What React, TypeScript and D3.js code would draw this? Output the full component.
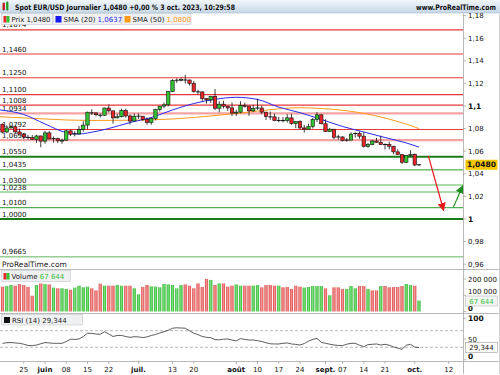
import React from "react";
import * as d3 from "d3";

// ---------- DATA ----------
const opens = [1.0839,1.0770,1.0806,1.0816,1.0771,1.0751,1.0726,1.0720,1.0705,1.0735,1.0689,1.0762,1.0708,1.0712,1.0692,1.0698,1.0780,1.0750,1.0753,1.0792,1.0831,1.0945,1.0939,1.0923,1.0918,1.0982,1.0957,1.0895,1.0905,1.0960,1.0912,1.0867,1.0910,1.0910,1.0882,1.0853,1.0888,1.0968,1.0999,1.1010,1.1128,1.1227,1.1228,1.1236,1.1230,1.1200,1.1128,1.1125,1.1065,1.1054,1.1085,1.0980,1.1016,1.0998,1.0983,1.0938,1.0946,1.1006,1.0999,1.0957,1.0979,1.0982,1.0946,1.0906,1.0904,1.0871,1.0872,1.0871,1.0895,1.0844,1.0863,1.0806,1.0795,1.0820,1.0880,1.0922,1.0843,1.0773,1.0795,1.0723,1.0726,1.0696,1.0698,1.0751,1.0756,1.0733,1.0642,1.0658,1.0690,1.0679,1.0659,1.0659,1.0644,1.0594,1.0571,1.0502,1.0563,1.0573,1.0478];
const highs = [1.0845,1.0829,1.0831,1.0829,1.0800,1.0761,1.0745,1.0744,1.0746,1.0737,1.0780,1.0779,1.0730,1.0719,1.0711,1.0787,1.0790,1.0777,1.0823,1.0865,1.0950,1.0971,1.0941,1.0933,1.0985,1.1012,1.0959,1.0930,1.0976,1.0977,1.0925,1.0934,1.0934,1.0911,1.0899,1.0902,1.0975,1.1000,1.1031,1.1132,1.1237,1.1245,1.1250,1.1276,1.1234,1.1222,1.1144,1.1130,1.1070,1.1089,1.1150,1.1043,1.1046,1.1002,1.1031,1.0966,1.1042,1.1029,1.1000,1.1010,1.1065,1.1004,1.0947,1.0951,1.0931,1.0904,1.0902,1.0927,1.0931,1.0864,1.0874,1.0831,1.0843,1.0894,1.0945,1.0928,1.0882,1.0805,1.0796,1.0745,1.0733,1.0718,1.0768,1.0767,1.0774,1.0768,1.0673,1.0700,1.0718,1.0737,1.0670,1.0684,1.0647,1.0618,1.0573,1.0567,1.0608,1.0579,1.0484];
const lows = [1.0760,1.0760,1.0801,1.0760,1.0746,1.0706,1.0702,1.0705,1.0674,1.0635,1.0666,1.0706,1.0676,1.0672,1.0666,1.0692,1.0735,1.0730,1.0747,1.0774,1.0796,1.0921,1.0908,1.0897,1.0912,1.0944,1.0844,1.0891,1.0898,1.0897,1.0835,1.0866,1.0887,1.0868,1.0834,1.0834,1.0874,1.0951,1.0981,1.0997,1.1123,1.1204,1.1218,1.1200,1.1181,1.1117,1.1103,1.1045,1.1021,1.1027,1.0963,1.0944,1.0978,1.0956,1.0912,1.0912,1.0937,1.0987,1.0913,1.0947,1.0966,1.0929,1.0876,1.0877,1.0866,1.0856,1.0854,1.0853,1.0834,1.0804,1.0795,1.0765,1.0791,1.0801,1.0858,1.0838,1.0772,1.0771,1.0705,1.0702,1.0686,1.0685,1.0698,1.0720,1.0711,1.0632,1.0631,1.0653,1.0675,1.0658,1.0615,1.0616,1.0573,1.0570,1.0488,1.0495,1.0553,1.0468,1.0468];
const closes = [1.0769,1.0805,1.0816,1.0771,1.0751,1.0726,1.0722,1.0705,1.0735,1.0689,1.0762,1.0708,1.0712,1.0692,1.0698,1.0780,1.0750,1.0753,1.0792,1.0831,1.0945,1.0939,1.0923,1.0918,1.0982,1.0957,1.0895,1.0905,1.0960,1.0912,1.0867,1.0910,1.0910,1.0882,1.0853,1.0888,1.0968,1.0999,1.1010,1.1128,1.1227,1.1228,1.1236,1.1230,1.1200,1.1128,1.1125,1.1065,1.1054,1.1085,1.0980,1.1016,1.0998,1.0983,1.0938,1.0946,1.1006,1.0999,1.0957,1.0979,1.0982,1.0946,1.0906,1.0904,1.0871,1.0872,1.0871,1.0895,1.0844,1.0863,1.0806,1.0795,1.0820,1.0880,1.0922,1.0843,1.0773,1.0795,1.0723,1.0726,1.0696,1.0698,1.0751,1.0756,1.0733,1.0642,1.0658,1.0690,1.0679,1.0659,1.0659,1.0644,1.0594,1.0571,1.0502,1.0563,1.0573,1.0478,1.0480];

const volumes = [153000,157000,163000,159000,169000,163000,151000,97000,163000,173000,169000,167000,147000,143000,143000,139000,134000,147000,159000,149000,153000,143000,130000,171000,159000,159000,159000,163000,159000,159000,159000,143000,106000,151000,163000,155000,153000,149000,169000,167000,163000,143000,163000,167000,159000,143000,173000,151000,200000,194000,163000,173000,173000,153000,159000,167000,159000,159000,159000,159000,163000,149000,163000,163000,159000,159000,149000,151000,139000,159000,153000,147000,151000,157000,157000,157000,143000,100000,149000,149000,139000,139000,157000,143000,157000,157000,139000,130000,130000,157000,157000,149000,151000,151000,157000,169000,163000,159000,67644];
const volumeUpLate = "rggrrrrgrrrrrgggggrgrrrgggrrgrrgrrrrrggrg"; // from index 58

const rsi = [39.6,41,41.5,40.5,39.6,37.5,34.5,34,35.5,38.5,41.5,40.5,39.6,39.5,39.6,44,49.5,49,50,56,64,63.5,62,61.3,67.5,62,56,58.5,58.5,56,54,55.5,55,53.5,55,58.5,61,64.5,67.5,71,76,77,76.5,76,70,64,60.5,56,54,53,48.5,48,49.5,50,47.5,45.5,51,49,47.6,47.6,46,44,41,38.5,38,38,39.5,40.5,38,37,35.5,39,45,49,51.5,42,39.6,37.5,35.5,34.5,34,37.5,39.6,39.6,35,31.4,36.5,37.2,38,35.5,37.2,35,31,28,25.1,35,37.2,30.5,29.344];

const sma20Idx = [-0.6,5,10,15,18,20,25,30,35,40,45,50,55,60,65,70,75,80,85,90,95,98];
const sma20Val = [1.0965,1.0925,1.0841,1.0765,1.0752,1.0761,1.0801,1.0854,1.0898,1.0965,1.1022,1.1059,1.1077,1.1058,1.0990,1.0941,1.0881,1.0819,1.0770,1.0721,1.0673,1.0637];
const sma50Idx = [-0.6,10,20,30,40,50,60,65,70,75,80,85,90,95,98];
const sma50Val = [1.0905,1.0885,1.0872,1.0874,1.0885,1.0915,1.0955,1.0975,1.0985,1.0978,1.0962,1.0935,1.0893,1.0840,1.0800];

const levelValues = [1.1674,1.146,1.125,1.11,1.1008,1.0934,1.0792,1.0698,1.055,1.0435,1.03,1.0238,1.01,1.0,0.9665];
const levelLabels = ["1,1674","1,1460","1,1250","1,1100","1,1008","1,0934","1,0792","1,0698","1,0550","1,0435","1,0300","1,0238","1,0100","1,0000","0,9665"];
const levelKinds = ["r","r","r","r","r","p","r","p","G","g","l","l","g","G","m"];

const priceTicks = [0.96,0.98,1,1.02,1.04,1.06,1.08,1.1,1.12,1.14,1.16,1.18];
const volumeTicks = [0,100000,200000];
const rsiTicks = [0,50,100];

const xTickIdx = [5,10,15,20,25,32,40,45,55,60,65,70,76,80,85,90,97,105];
const xTickLabels = ["25","juin","08","15","22","juil.","13","20","août","10","17","24","sept.","07","14","21","oct.","12"];

const arrowDown = { i0: 100.2, p0: 1.0558, i1: 103.8, p1: 1.0075 };
const arrowUp = { i0: 106.1, p0: 1.0105, i1: 108.3, p1: 1.0295 };

// ---------- LAYOUT ----------
const F = "'DejaVu Sans', Verdana, sans-serif";
const AX = 463.5;
const x = d3.scaleLinear().domain([0, 98]).range([2.5, 419]);
const yP = d3.scaleLinear().domain([1, 1.1]).range([219, 106]);
const yV = d3.scaleLinear().domain([0, 200000]).range([311.5, 279]);
const yR = d3.scaleLinear().domain([0, 100]).range([359.75, 318.25]);

const GREEN = "#33c433";
const RED = "#e8262a";

const levelStyle: Record<string, { c: string; w: number }> = {
  r: { c: "#e8383a", w: 1.2 },
  p: { c: "#f5a3a3", w: 2.2 },
  G: { c: "#187c18", w: 2 },
  g: { c: "#2e9c2e", w: 1 },
  l: { c: "#a9dba9", w: 2 },
  m: { c: "#5fb55f", w: 1 },
};

const fmt = (v: number) => String(+v.toFixed(4)).replace(".", ",");

export default function App() {
  const n = closes.length;
  const s20 = d3
    .line<number>()
    .x((_, i) => x(sma20Idx[i]))
    .y((v) => yP(v))
    .curve(d3.curveMonotoneX)(sma20Val);
  const s50 = d3
    .line<number>()
    .x((_, i) => x(sma50Idx[i]))
    .y((v) => yP(v))
    .curve(d3.curveMonotoneX)(sma50Val);
  const rsiPath = d3
    .line<number>()
    .x((_, i) => x(i))
    .y((v) => yR(v))(rsi);

  const volUp = (i: number) =>
    i >= 58 ? volumeUpLate[i - 58] === "g" : closes[i] >= opens[i];

  return (
    <svg width={500} height={375} style={{ display: "block", position: "absolute", left: 0, top: 0 }} fontFamily={F}>
      <defs>
        <linearGradient id="hdr" x1="0" y1="0" x2="0" y2="1">
          <stop offset="0" stopColor="#f1f6fb" />
          <stop offset="1" stopColor="#c6d7e7" />
        </linearGradient>
        <linearGradient id="vg" x1="0" y1="0" x2="1" y2="0">
          <stop offset="0" stopColor="#27ad27" />
          <stop offset="0.45" stopColor="#80e280" />
          <stop offset="1" stopColor="#2fb52f" />
        </linearGradient>
        <linearGradient id="vr" x1="0" y1="0" x2="1" y2="0">
          <stop offset="0" stopColor="#da3c3c" />
          <stop offset="0.45" stopColor="#f29a9a" />
          <stop offset="1" stopColor="#de4747" />
        </linearGradient>
        <marker id="ar" viewBox="0 0 10 10" refX="9" refY="5" markerWidth="7" markerHeight="7" orient="auto">
          <path d="M0,0 L10,5 L0,10 z" fill="#e8191c" />
        </marker>
        <marker id="ag" viewBox="0 0 10 10" refX="9" refY="5" markerWidth="7" markerHeight="7" orient="auto">
          <path d="M0,0 L10,5 L0,10 z" fill="#1e8c1e" />
        </marker>
        <clipPath id="mainClip">
          <rect x={0} y={13} width={AX} height={256} />
        </clipPath>
      </defs>
      <rect x={0} y={0} width={500} height={375} fill="#fff" />

      {/* Level lines */}
      <g clipPath="url(#mainClip)">
        {levelValues.map((v, i) => (
          <line key={"l" + i} x1={0} x2={AX} y1={yP(v)} y2={yP(v)} stroke={levelStyle[levelKinds[i]].c} strokeWidth={levelStyle[levelKinds[i]].w} />
        ))}
        {levelValues.map((v, i) => (
          <text key={"t" + i} x={2} y={yP(v) - 2.5} fontSize={7} fill="#111">
            {levelLabels[i]}
          </text>
        ))}
        <path d={s50 || ""} fill="none" stroke="#ff9a1a" strokeWidth={1} />
        <path d={s20 || ""} fill="none" stroke="#2a2af0" strokeWidth={1} />
        {d3.range(n).map((i) => {
          const o = opens[i], c = closes[i];
          const cx = x(i);
          const doji = Math.abs(c - o) < 0.0006;
          const top = yP(Math.max(o, c)), bot = yP(Math.min(o, c));
          return (
            <g key={"c" + i}>
              <line x1={cx} x2={cx} y1={yP(highs[i])} y2={yP(lows[i])} stroke="#111" strokeWidth={0.8} />
              {doji ? (
                <line x1={cx - 2} x2={cx + 2} y1={yP(c)} y2={yP(c)} stroke="#111" strokeWidth={1} />
              ) : (
                <rect x={cx - 1.7} y={top} width={3.4} height={Math.max(1, bot - top)} fill={c > o ? GREEN : RED} stroke="#111" strokeWidth={0.6} />
              )}
            </g>
          );
        })}
        <text x={2} y={267} fontSize={7.5} fill="#222">ProRealTime.com</text>
      </g>

      {/* arrows */}
      <line x1={x(arrowDown.i0)} y1={yP(arrowDown.p0)} x2={x(arrowDown.i1)} y2={yP(arrowDown.p1)} stroke="#e8191c" strokeWidth={1.2} markerEnd="url(#ar)" />
      <line x1={x(arrowUp.i0)} y1={yP(arrowUp.p0)} x2={x(arrowUp.i1)} y2={yP(arrowUp.p1)} stroke="#1e8c1e" strokeWidth={1.2} markerEnd="url(#ag)" />

      {/* Header */}
      <rect x={0} y={0} width={500} height={13} fill="url(#hdr)" />
      <line x1={0} x2={500} y1={13} y2={13} stroke="#a9b8c6" strokeWidth={0.6} />
      <rect x={2.5} y={3} width={2.5} height={7} fill={RED} />
      <rect x={6} y={2} width={2.5} height={8} fill={GREEN} />
      <line x1={3.75} x2={3.75} y1={2} y2={11} stroke="#333" strokeWidth={0.5} />
      <line x1={7.25} x2={7.25} y1={1} y2={11} stroke="#333" strokeWidth={0.5} />
      <text x={15} y={9.5} fontSize={7.5} fontWeight="bold" fill="#111" textLength={220} lengthAdjust="spacingAndGlyphs">
        Spot EUR/USD Journalier 1,0480 +0,00 % 3 oct. 2023, 10:29:58
      </text>
      <text x={416} y={9.5} fontSize={7.5} fontWeight="bold" fill="#111" textLength={80} lengthAdjust="spacingAndGlyphs">
        www.ProRealTime.com
      </text>

      {/* Legend boxes */}
      <g fontSize={7}>
        <rect x={1.5} y={13.5} width={51} height={11} fill="#eef0f2" stroke="#c3c8ce" strokeWidth={0.6} />
        <rect x={3.5} y={16} width={3} height={6.5} fill={RED} />
        <rect x={6.5} y={16} width={3} height={6.5} fill={GREEN} />
        <text x={11.5} y={22} fill="#222" textLength={39} lengthAdjust="spacingAndGlyphs">Prix 1,0480</text>
        <rect x={53} y={13.5} width={68} height={11} fill="#eef0f2" stroke="#c3c8ce" strokeWidth={0.6} />
        <rect x={55.5} y={16} width={6} height={6.5} fill="#1616f0" />
        <text x={63.5} y={22} fill="#222">
          SMA (20) <tspan fill="#2a2af0">1,0637</tspan>
        </text>
        <rect x={122} y={13.5} width={69} height={11} fill="#eef0f2" stroke="#c3c8ce" strokeWidth={0.6} />
        <rect x={124.5} y={16} width={6} height={6.5} fill="#ff9a1a" />
        <text x={132.5} y={22} fill="#222">
          SMA (50) <tspan fill="#ff9a1a">1,0800</tspan>
        </text>
      </g>

      {/* Volume panel */}
      <line x1={0} x2={500} y1={269.5} y2={269.5} stroke="#a8a8a8" strokeWidth={0.8} />
      {volumes.map((v, i) => (
        <rect key={"v" + i} x={x(i) - 1.6} y={yV(v)} width={3.2} height={yV(0) - yV(v)} fill={volUp(i) ? "url(#vg)" : "url(#vr)"} />
      ))}
      <g fontSize={7}>
        <rect x={1.5} y={270.5} width={69} height={11} fill="#eef0f2" stroke="#c3c8ce" strokeWidth={0.6} />
        <rect x={3.5} y={273} width={3} height={6.5} fill={RED} />
        <rect x={6.5} y={273} width={3} height={6.5} fill={GREEN} />
        <text x={11.5} y={279} fill="#222">
          Volume <tspan fill="#3cbf3c">67 644</tspan>
        </text>
      </g>

      {/* RSI panel */}
      <line x1={0} x2={500} y1={313.5} y2={313.5} stroke="#a8a8a8" strokeWidth={0.8} />
      {[70, 30].map((v) => (
        <line key={"d" + v} x1={0} x2={AX} y1={yR(v)} y2={yR(v)} stroke="#9a9a9a" strokeWidth={0.7} strokeDasharray="3,2" />
      ))}
      <path d={rsiPath || ""} fill="none" stroke="#333" strokeWidth={0.8} />
      <g fontSize={7}>
        <rect x={1.5} y={314.5} width={81} height={10.5} fill="#eef0f2" stroke="#c3c8ce" strokeWidth={0.6} />
        <rect x={4} y={317} width={6} height={6} fill="#111" />
        <text x={12} y={322.5} fill="#222">RSI (14) 29,344</text>
      </g>

      {/* Bottom axis */}
      <line x1={0} x2={500} y1={361.5} y2={361.5} stroke="#a8a8a8" strokeWidth={0.8} />
      {xTickIdx.map((t, i) => (
        <g key={"x" + i}>
          <line x1={x(t)} x2={x(t)} y1={361.5} y2={364} stroke="#888" strokeWidth={0.6} />
          <text x={x(t)} y={372} fontSize={7} textAnchor="middle" fontWeight={/[a-z]/.test(xTickLabels[i]) ? "bold" : "normal"} fill="#111">
            {xTickLabels[i]}
          </text>
        </g>
      ))}

      {/* Right axis */}
      <line x1={AX} x2={AX} y1={13.5} y2={374} stroke="#a8a8a8" strokeWidth={0.8} />
      <line x1={499.5} x2={499.5} y1={13.5} y2={374} stroke="#c8c8c8" strokeWidth={0.8} />
      {priceTicks.map((v) => {
        const bold = Math.abs(v - 1) < 1e-9 || Math.abs(v - 1.1) < 1e-9;
        return (
          <g key={"p" + v}>
            <line x1={AX} x2={AX + 2.5} y1={yP(v)} y2={yP(v)} stroke="#888" strokeWidth={0.6} />
            <text x={468} y={yP(v) + 2.5} fontSize={bold ? 7.5 : 7} fontWeight={bold ? "bold" : "normal"} fill="#111">
              {fmt(v)}
            </text>
          </g>
        );
      })}
      <rect x={465.5} y={yP(1.048) - 5} width={32} height={10} fill="#f7c600" />
      <text x={481.5} y={yP(1.048) + 2.7} fontSize={7.5} fontWeight="bold" textAnchor="middle" fill="#111">1,0480</text>

      {volumeTicks.map((v) => (
        <g key={"vt" + v}>
          <line x1={AX} x2={AX + 2.5} y1={yV(v)} y2={yV(v)} stroke="#888" strokeWidth={0.6} />
          <text x={468} y={v === 0 ? yV(v) - 1 : v === 100000 ? yV(v) - 1 : yV(v) + 2.5} fontSize={7} fontWeight={v === 0 ? "bold" : "normal"} fill="#111">
            {d3.format(",")(v).replace(/,/g, " ")}
          </text>
        </g>
      ))}
      <rect x={465.5} y={yV(67644) - 4.5} width={32} height={10} fill="#f4f6f4" stroke="#b8b8b8" strokeWidth={0.6} />
      <text x={481.5} y={yV(67644) + 3} fontSize={7} textAnchor="middle" fill="#3cbf3c">67 644</text>

      {rsiTicks.map((v) => (
        <g key={"rt" + v}>
          <line x1={AX} x2={AX + 2.5} y1={yR(v)} y2={yR(v)} stroke="#888" strokeWidth={0.6} />
          <text x={468} y={v === 0 ? yR(v) - 0.5 : v === 100 ? yR(v) + 3 : yR(v) + 2.5} fontSize={v === 50 ? 7 : 7.5} fontWeight={v === 50 ? "normal" : "bold"} fill="#111">
            {v}
          </text>
        </g>
      ))}
      <rect x={465.5} y={yR(29.344) - 5} width={32} height={10} fill="#fff" stroke="#9a9a9a" strokeWidth={0.6} />
      <text x={481.5} y={yR(29.344) + 2.5} fontSize={7} textAnchor="middle" fill="#111">29,344</text>
    </svg>
  );
}
